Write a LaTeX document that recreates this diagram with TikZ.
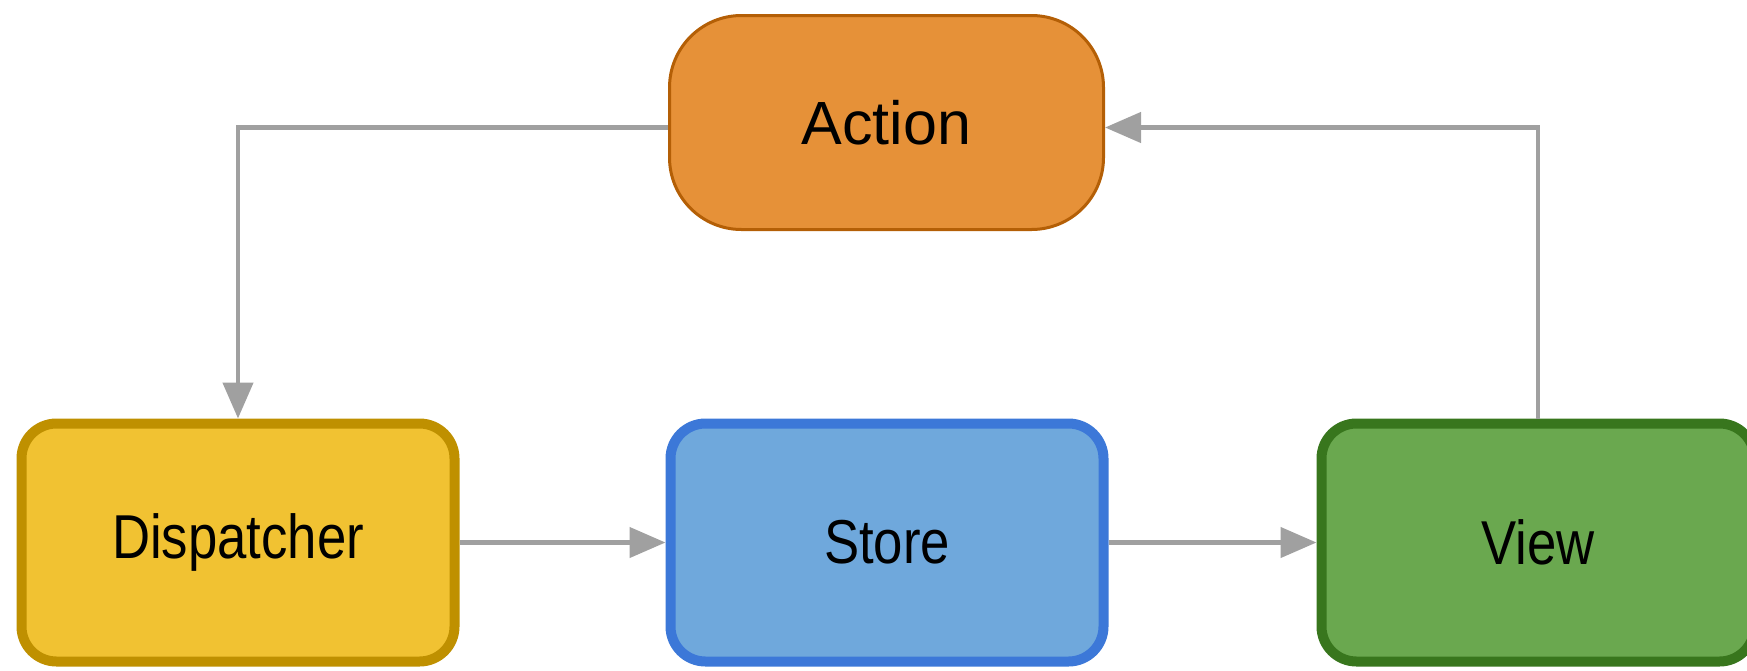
\documentclass[tikz,border=0pt]{standalone}
\usepackage{fontspec}
\setmainfont{Liberation Sans}
\newfontfamily\narrowfont{Liberation Sans}[FakeStretch=0.85]
\usetikzlibrary{arrows.meta}
\definecolor{actfill}{HTML}{E69138}
\definecolor{actline}{HTML}{B45F06}
\definecolor{disfill}{HTML}{F1C232}
\definecolor{disline}{HTML}{BF9000}
\definecolor{stofill}{HTML}{6FA8DC}
\definecolor{stoline}{HTML}{3C78D8}
\definecolor{viefill}{HTML}{6AA84F}
\definecolor{vieline}{HTML}{38761D}
\definecolor{arrgray}{HTML}{A0A0A0}
\begin{document}
\begin{tikzpicture}[x=1pt,y=-1pt,
  boxnode/.style={rectangle, rounded corners=35pt, line width=10pt, inner sep=0pt,
    minimum width=433pt, minimum height=238pt,
    font=\narrowfont\fontsize{62}{70}\selectfont},
  actnode/.style={rectangle, rounded corners=72pt, line width=3pt, inner sep=0pt,
    minimum width=434pt, minimum height=214pt, fill=actfill, draw=actline,
    font=\fontsize{61}{70}\selectfont},
  arr/.style={draw=arrgray, line width=4.5pt, -{Triangle[length=36pt,width=30pt]}}]
\useasboundingbox (0,0) rectangle (1747,670);
\node[actnode] (Action) at (886.5,122.5) {Action};
\node[boxnode, fill=disfill, draw=disline] (Dispatcher) at (238,542.5) {\raisebox{-4pt}{Dispatcher}};
\node[boxnode, fill=stofill, draw=stoline] (Store) at (887,542.5) {\raisebox{-4pt}{Store}};
\node[boxnode, fill=viefill, draw=vieline] (View) at (1538,542.5) {\raisebox{-4pt}{View}};
\draw[arr] ([yshift=-5pt]Action.west) -| (Dispatcher.north);
\draw[arr] (View.north) |- ([yshift=-5pt]Action.east);
\draw[arr] (Dispatcher.east) -- (Store.west);
\draw[arr] (Store.east) -- (View.west);
\end{tikzpicture}
\end{document}
